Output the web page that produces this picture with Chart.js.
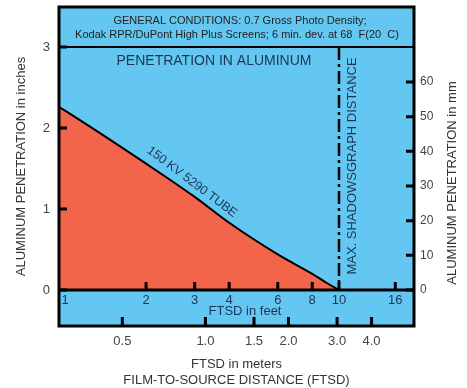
<!DOCTYPE html>
<html>
<head>
<meta charset="utf-8">
<script src="https://cdn.jsdelivr.net/npm/chart.js@4/dist/chart.umd.min.js"></script>
<style>
  html, body { margin: 0; padding: 0; background: #fff; }
  #wrap { width: 467px; height: 388px; }
</style>
</head>
<body>
<div id="wrap"><canvas id="c"></canvas></div>
<script>
// curve: penetration (in) vs film-to-source distance (ft)
const feet = [0.967, 1, 2, 3, 4, 6, 8, 9, 10];
const inches = [2.26, 2.23, 1.56, 1.15, 0.83, 0.44, 0.20, 0.09, 0];

const inchTicks = [0, 1, 2, 3];
const mmTicks = [0, 10, 20, 30, 40, 50, 60];
const feetTicks = [1, 2, 3, 4, 6, 8, 10, 16];
const meterTicks = [0.5, 1.0, 1.5, 2.0, 3.0, 4.0];
const maxShadowFt = 10;

const FT_PER_M = 3.2808;
const X_MIN = 0.967, X_MAX = 18.7;
const BLUE = '#63C7F1', ORANGE = '#F2654A', NAVY = '#1c3556';
const FONT = '"Liberation Sans", Arial, sans-serif';

const decor = {
  id: 'decor',
  beforeDatasetsDraw(chart) {
    const { ctx, chartArea: a } = chart;
    ctx.save();
    ctx.fillStyle = BLUE;
    ctx.fillRect(a.left, a.top, a.right - a.left, a.bottom - a.top);
    ctx.restore();
  },
  afterDatasetsDraw(chart) {
    const { ctx, chartArea: a, scales } = chart;
    const x = scales.x, y = scales.y, y2 = scales.y2, xm = scales.xm;
    const y0 = y.getPixelForValue(0), y3 = y.getPixelForValue(3);
    ctx.save();
    ctx.strokeStyle = '#000';

    // max shadowgraph distance (dash-dot)
    const xs = x.getPixelForValue(maxShadowFt);
    ctx.lineWidth = 2.5;
    ctx.setLineDash([13, 4, 3, 4]);
    ctx.beginPath(); ctx.moveTo(xs, y3); ctx.lineTo(xs, y0); ctx.stroke();
    ctx.setLineDash([]);

    // header divider + zero line
    ctx.lineWidth = 2;
    ctx.beginPath(); ctx.moveTo(a.left, y3); ctx.lineTo(a.right, y3); ctx.stroke();
    ctx.lineWidth = 3;
    ctx.beginPath(); ctx.moveTo(a.left, y0); ctx.lineTo(a.right, y0); ctx.stroke();

    // ticks
    ctx.lineWidth = 3;
    ctx.beginPath();
    inchTicks.forEach(v => { const p = y.getPixelForValue(v); ctx.moveTo(a.left, p); ctx.lineTo(a.left + 8, p); });
    mmTicks.forEach(v => { const p = y2.getPixelForValue(v); ctx.moveTo(a.right, p); ctx.lineTo(a.right - 8, p); });
    feetTicks.slice(1).forEach(v => { const p = x.getPixelForValue(v); ctx.moveTo(p, y0); ctx.lineTo(p, y0 - 8); });
    meterTicks.forEach(v => { const p = xm.getPixelForValue(v); ctx.moveTo(p, a.bottom); ctx.lineTo(p, a.bottom - 9); });
    ctx.stroke();

    // frame
    ctx.lineWidth = 3;
    ctx.strokeRect(a.left, a.top, a.right - a.left, a.bottom - a.top);

    // feet labels inside band
    ctx.fillStyle = NAVY;
    ctx.font = '13px ' + FONT;
    ctx.textAlign = 'center';
    ctx.textBaseline = 'middle';
    feetTicks.forEach(v => {
      let p = x.getPixelForValue(v);
      if (v === 1) p += 2;
      ctx.fillText(String(v), p, y0 + 10);
    });
    ctx.fillText('FTSD in feet', 245, y0 + 21);

    // header text
    ctx.fillStyle = '#222';
    ctx.font = '11px ' + FONT;
    ctx.fillText('GENERAL CONDITIONS: 0.7 Gross Photo Density;', 240, a.top + 14);
    ctx.fillText('Kodak RPR/DuPont High Plus Screens; 6 min. dev. at 68  F(20  C)', 237, a.top + 28);

    // in-plot labels
    ctx.fillStyle = NAVY;
    ctx.font = '14px ' + FONT;
    ctx.fillText('PENETRATION IN ALUMINUM', 214, y3 + 14);

    ctx.font = '12.5px ' + FONT;
    ctx.save();
    ctx.translate(192, 182);
    ctx.rotate(37 * Math.PI / 180);
    ctx.fillText('150 KV 5290 TUBE', 0, 0);
    ctx.restore();

    ctx.save();
    ctx.translate(xs + 13, 166);
    ctx.rotate(-Math.PI / 2);
    ctx.font = '13px ' + FONT;
    ctx.fillText('MAX. SHADOWSGRAPH DISTANCE', 0, 0);
    ctx.restore();

    // right axis title (reads bottom-to-top)
    ctx.save();
    ctx.translate(452, 183);
    ctx.rotate(-Math.PI / 2);
    ctx.fillStyle = '#333';
    ctx.font = '13px ' + FONT;
    ctx.fillText('ALUMINUM PENETRATION in mm', 0, 0);
    ctx.restore();

    ctx.restore();
  }
};

function noPad(s) {
  s.paddingTop = 0; s.paddingBottom = 0; s.paddingLeft = 0; s.paddingRight = 0;
}

new Chart(document.getElementById('c'), {
  type: 'line',
  data: {
    labels: feet,
    datasets: [{
      data: feet.map((f, i) => ({ x: f, y: inches[i] })),
      xAxisID: 'x', yAxisID: 'y',
      borderColor: '#000', borderWidth: 2,
      backgroundColor: ORANGE, fill: 'origin',
      pointRadius: 0, cubicInterpolationMode: 'monotone'
    }]
  },
  options: {
    responsive: true,
    maintainAspectRatio: false,
    animation: false,
    layout: { padding: { top: 7, left: 0, right: 0, bottom: 0 } },
    plugins: { legend: { display: false }, tooltip: { enabled: false } },
    scales: {
      x: { type: 'logarithmic', display: false, min: X_MIN, max: X_MAX },
      xm: {
        type: 'logarithmic', position: 'bottom',
        min: X_MIN / FT_PER_M, max: X_MAX / FT_PER_M,
        afterBuildTicks: s => { s.ticks = meterTicks.map(v => ({ value: v })); },
        afterFit: s => { s.height = 62; noPad(s); },
        grid: { display: false, drawTicks: false },
        border: { display: false },
        ticks: {
          autoSkip: false, maxRotation: 0, padding: 8,
          color: '#444', font: { family: FONT, size: 13 },
          callback: v => Number(v).toFixed(1)
        },
        title: {
          display: true, text: ['FTSD in meters', 'FILM-TO-SOURCE DISTANCE (FTSD)'],
          color: '#333', font: { family: FONT, size: 13 }, padding: { top: 1, bottom: 0 }
        }
      },
      y: {
        position: 'left', min: -0.444, max: 3.494,
        afterBuildTicks: s => { s.ticks = inchTicks.map(v => ({ value: v })); },
        afterFit: s => { s.width = 59; noPad(s); },
        grid: { display: false, drawTicks: false },
        border: { display: false },
        ticks: { padding: 9, color: '#444', font: { family: FONT, size: 13 } },
        title: {
          display: true, text: 'ALUMINUM PENETRATION in inches',
          color: '#333', font: { family: FONT, size: 13 }, padding: { top: 14, bottom: 0 }
        }
      },
      y2: {
        position: 'right', min: -10.38, max: 81.63,
        afterBuildTicks: s => { s.ticks = mmTicks.map(v => ({ value: v })); },
        afterFit: s => { s.width = 53; noPad(s); },
        grid: { display: false, drawTicks: false },
        border: { display: false },
        ticks: { padding: 6, color: '#444', font: { family: FONT, size: 12 } }
      }
    }
  },
  plugins: [decor]
});
</script>
</body>
</html>
